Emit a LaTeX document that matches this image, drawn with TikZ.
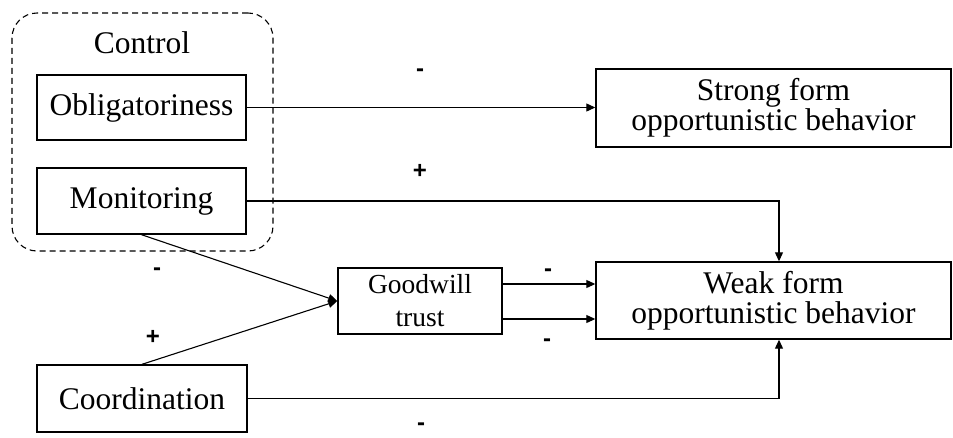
\documentclass[tikz,border=0pt]{standalone}
\usepackage{fontspec}
\setmainfont{Liberation Serif}
\newfontfamily\signfont{Liberation Sans}
\usetikzlibrary{arrows.meta}

\begin{document}
\begin{tikzpicture}[x=1pt, y=-1pt,
		box/.style={draw, line width=1.4pt, inner sep=0pt, align=center,
			font=\fontsize{31.5}{30}\selectfont},
		arr/.style={line width=1.1pt, -{Triangle[length=9pt,width=8pt]}},
		link/.style={line width=1.1pt},
		sign/.style={inner sep=0pt, font=\signfont\bfseries\fontsize{24}{24}\selectfont}]
	\useasboundingbox (0,0) rectangle (953,437);

	% control group
	\node [draw, dashed, line width=1.1pt, rounded corners=25pt, dash pattern=on 6pt off 4pt,
		minimum width=261pt, minimum height=238pt] (ctrlgrp) at (142.5,132) {};
	\node [font=\fontsize{31.5}{30}\selectfont] (ctrl) at (142,43) {Control};
	\node [box, minimum width=209pt, minimum height=65pt] (oblig) at (141.5,107.5) {Obligatoriness};
	\node [box, minimum width=209pt, minimum height=66pt] (monit) at (141.5,201) {Monitoring};

	\node [box, minimum width=210pt, minimum height=67pt] (coord) at (142,398.5) {Coordination};
	\node [box, minimum width=164pt, minimum height=66pt, font=\fontsize{27.5}{33}\selectfont]
		(goodwill) at (420,301) {Goodwill\\trust};

	\node [box, minimum width=355pt, minimum height=78pt] (strong) at (773.5,108) {Strong form\\opportunistic behavior};
	\node [box, minimum width=355pt, minimum height=77pt] (weak) at (773.5,300.5) {Weak form\\opportunistic behavior};

	% links
	\draw [arr] (oblig.east) -- (oblig.east -| strong.west);
	\draw [arr] (monit.east) -| ([xshift=5.5pt]weak.north);
	\draw [arr] (coord.east) -| ([xshift=5.5pt]weak.south);
	\draw [arr] (monit.south) -- (goodwill.west);
	\draw [arr] (coord.north) -- (goodwill.west);
	\coordinate (gwA) at ([yshift=17pt]goodwill.east);
	\coordinate (gwB) at ([yshift=-18pt]goodwill.east);
	\draw [arr] (gwA) -- (gwA -| weak.west);
	\draw [arr] (gwB) -- (gwB -| weak.west);

	% signs
	\node [sign] (sOS) at (420,73) {-};
	\node [sign] (sMW) at (420,171) {+};
	\node [sign] (sMG) at (157,272) {-};
	\node [sign] (sCG) at (153,337) {+};
	\node [sign] (sGA) at (548,273) {-};
	\node [sign] (sGB) at (547,343) {-};
	\node [sign] (sCW) at (421,427) {-};
\end{tikzpicture}
\end{document}
